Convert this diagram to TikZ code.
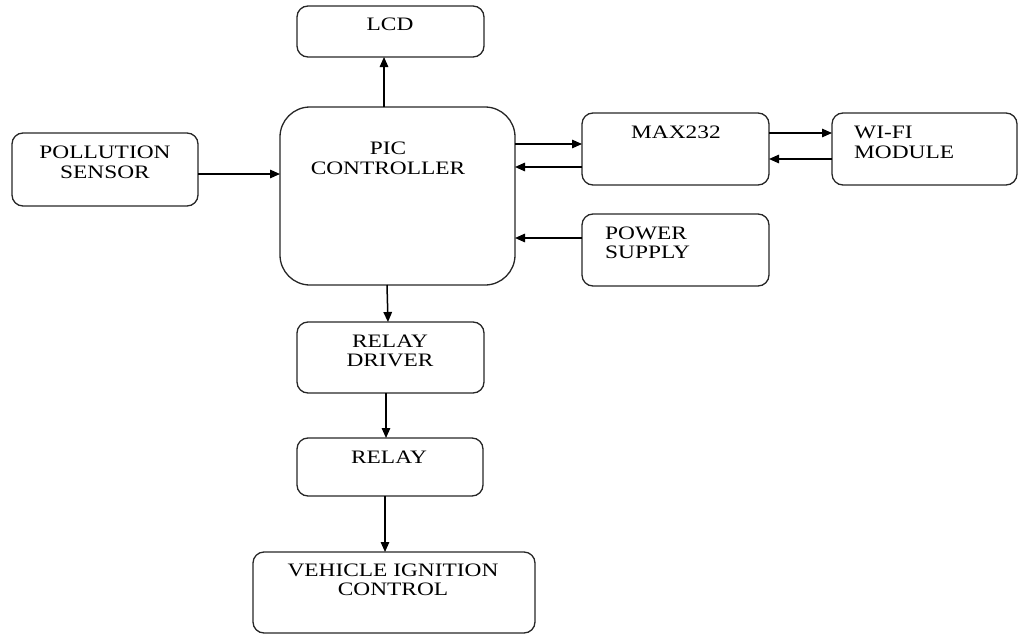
\documentclass[tikz,border=0pt]{standalone}
\usepackage{fontspec}
\newfontfamily\lbl[FakeStretch=1.23]{Liberation Serif}
\usetikzlibrary{arrows.meta}
\begin{document}
\begin{tikzpicture}[x=1pt,y=-1pt,
  box/.style={draw=black!85,line width=1.3pt,rounded corners=11pt,inner sep=0pt,outer sep=0pt},
  bigbox/.style={box,rounded corners=30pt},
  txt/.style={font={\lbl\fontsize{19}{19.5}\selectfont},text=black,inner sep=0pt,align=center},
  ltxt/.style={txt,align=left,anchor=west},
  arr/.style={draw=black,line width=1.5pt,-{Triangle[length=10pt,width=8.5pt]}}]
\useasboundingbox (0,0) rectangle (1019,634);
% boxes
\node[box,minimum width=187pt,minimum height=51pt] (lcd) at (390.5,31.5) {};
\node[bigbox,minimum width=235pt,minimum height=178pt] (pic) at (397.5,196) {};
\node[box,minimum width=186pt,minimum height=73pt] (pol) at (105,169.5) {};
\node[box,minimum width=187pt,minimum height=72pt] (max) at (675.5,149) {};
\node[box,minimum width=185pt,minimum height=72pt] (wifi) at (924.5,149) {};
\node[box,minimum width=187pt,minimum height=72pt] (pow) at (675.5,250) {};
\node[box,minimum width=187pt,minimum height=71pt] (rd) at (390.5,357.5) {};
\node[box,minimum width=186pt,minimum height=58pt] (rel) at (390,467) {};
\node[box,minimum width=282pt,minimum height=81pt] (veh) at (394,592.5) {};
% labels
\node[txt] (tlcd) at (390,24) {LCD};
\node[txt] (tpic) at (388,158.5) {PIC\\CONTROLLER};
\node[txt] (tpol) at (105,162.5) {POLLUTION\\SENSOR};
\node[txt] (tmax) at (676,132) {MAX232};
\node[ltxt] (twifi) at (854,142.5) {WI-FI\\MODULE};
\node[ltxt] (tpow) at (605,243) {POWER\\SUPPLY};
\node[txt] (trd) at (390,351) {RELAY\\DRIVER};
\node[txt] (trel) at (389,457) {RELAY};
\node[txt] (tveh) at (393,580) {VEHICLE IGNITION\\CONTROL};
% connectors
\draw[arr] (pic.north -| 384,0) -- (lcd.south -| 384,0);
\draw[arr] (pol.east |- 0,174) -- (pic.west |- 0,174);
\draw[arr] (pic.east |- 0,144) -- (max.west |- 0,144);
\draw[arr] (max.west |- 0,167) -- (pic.east |- 0,167);
\draw[arr] (max.east |- 0,133) -- (wifi.west |- 0,133);
\draw[arr] (wifi.west |- 0,159) -- (max.east |- 0,159);
\draw[arr] (pow.west |- 0,238) -- (pic.east |- 0,238);
\draw[arr] (pic.south -| 387,0) -- (rd.north -| 388,0);
\draw[arr] (rd.south -| 386,0) -- (rel.north -| 386,0);
\draw[arr] (rel.south -| 385,0) -- (veh.north -| 385,0);
\end{tikzpicture}
\end{document}
